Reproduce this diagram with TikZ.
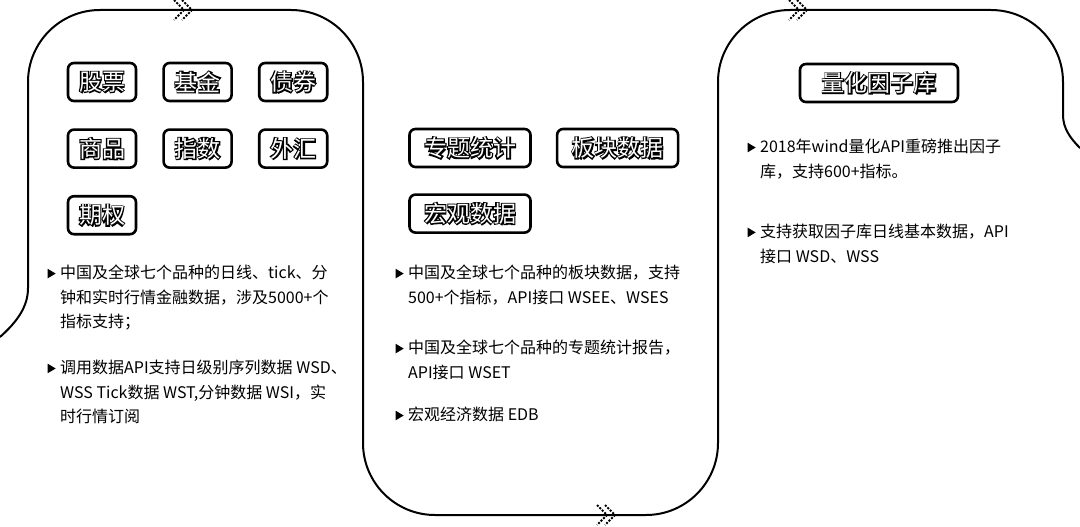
\documentclass[tikz,border=0pt]{standalone}
\usepackage{fontspec}
\setmainfont{Noto Sans CJK SC}
\newfontfamily\tagfont{Noto Sans CJK SC}
\newfontfamily\tagheavy[FakeBold=6]{Noto Sans CJK SC}
\usetikzlibrary{positioning}
% outlined tag lettering and list bullet
\newcommand{\tagtxt}[1]{\rlap{\tagheavy\bfseries #1}\textcolor{white}{\tagfont #1}}
\newcommand{\bul}{\llap{\tikz[baseline=0pt]\fill (0pt,0.5pt) -- (0pt,10pt) -- (8pt,5.25pt) -- cycle;\hspace{4.5pt}}}

\begin{document}
\begin{tikzpicture}[
  x=1pt, y=-1pt,
  % --- Styles ---
  flow/.style={line width=2pt, line join=round, line cap=round},
  chevline/.style={line width=2pt, dash pattern=on 2pt off 1.5pt},
  chev/.pic={\draw[chevline] (-16,-10) -- (-6,0) -- (-16,10)
                              (-8,-10) -- (2,0) -- (-8,10);},
  tagbox/.style={
    rectangle, rounded corners=6pt, draw, line width=2.6pt,
    minimum height=38pt, minimum width=#1, inner sep=0pt,
    font=\fontsize{23}{23}\selectfont},
  tagbox/.default=68pt,
  para/.style={anchor=north west, align=left, inner sep=0pt,
    font=\fontsize{16}{24.5}\selectfont},
]
\useasboundingbox (0,0) rectangle (1080,527);

% === SNAKE OUTLINE ===
\coordinate (in) at (0,337);
\coordinate (s) at (28,288);
\coordinate (e) at (1063,115);
\coordinate (out) at (1080,148);
\draw[flow] (in) .. controls (18,321) and (28,306) .. (s);
\draw[flow, rounded corners=72pt] (s) -- (28,10) -- (363,10) -- (363,515)
  -- (718,515) -- (718,10) -- (1063,10) -- (e);
\draw[flow] (e) .. controls (1063,128) and (1070,138) .. (out);
\pic at (190,10) {chev};
\pic at (613,515) {chev};
\pic at (805,10) {chev};

% === PANEL 1: asset classes ===
\node[tagbox] (gp) at (102,82) {\tagtxt{股票}};
\node[tagbox, right=25pt of gp] (jj) {\tagtxt{基金}};
\node[tagbox, right=25pt of jj] (zq) {\tagtxt{债券}};
\node[tagbox, below=26pt of gp] (sp) {\tagtxt{商品}};
\node[tagbox, below=26pt of jj] (zs) {\tagtxt{指数}};
\node[tagbox, below=26pt of zq] (wh) {\tagtxt{外汇}};
\node[tagbox, below=26pt of sp] (qq) {\tagtxt{期权}};

\node[para] (p1a) at (60,265) {%
  \bul 中国及全球七个品种的日线、tick、分\\
  钟和实时行情金融数据，涉及5000+个\\
  指标支持；};
\node[para] (p1b) at (60,360) {%
  \bul 调用数据API支持日级别序列数据 WSD、\\
  WSS Tick数据 WST,分钟数据 WSI，实\\
  时行情订阅};

% === PANEL 2: sector / macro ===
\node[tagbox=121pt] (ztj) at (470,148) {\tagtxt{专题统计}};
\node[tagbox=121pt, right=24pt of ztj] (bk) {\tagtxt{板块数据}};
\node[tagbox=121pt, below=25pt of ztj] (hg) {\tagtxt{宏观数据}};

\node[para] (p2a) at (408,265) {%
  \bul 中国及全球七个品种的板块数据，支持\\
  500+个指标，API接口 WSEE、WSES};
\node[para] (p2b) at (408,340) {%
  \bul 中国及全球七个品种的专题统计报告，\\
  API接口 WSET};
\node[para] (p2c) at (408,407) {%
  \bul 宏观经济数据 EDB};

% === PANEL 3: factor library ===
\node[tagbox=158pt] (lh) at (879,83) {\tagtxt{量化因子库}};

\node[para] (p3a) at (760,139) {%
  \bul 2018年wind量化API重磅推出因子\\
  库，支持600+指标。};
\node[para] (p3b) at (760,224) {%
  \bul 支持获取因子库日线基本数据，API\\
  接口 WSD、WSS};
\end{tikzpicture}
\end{document}
